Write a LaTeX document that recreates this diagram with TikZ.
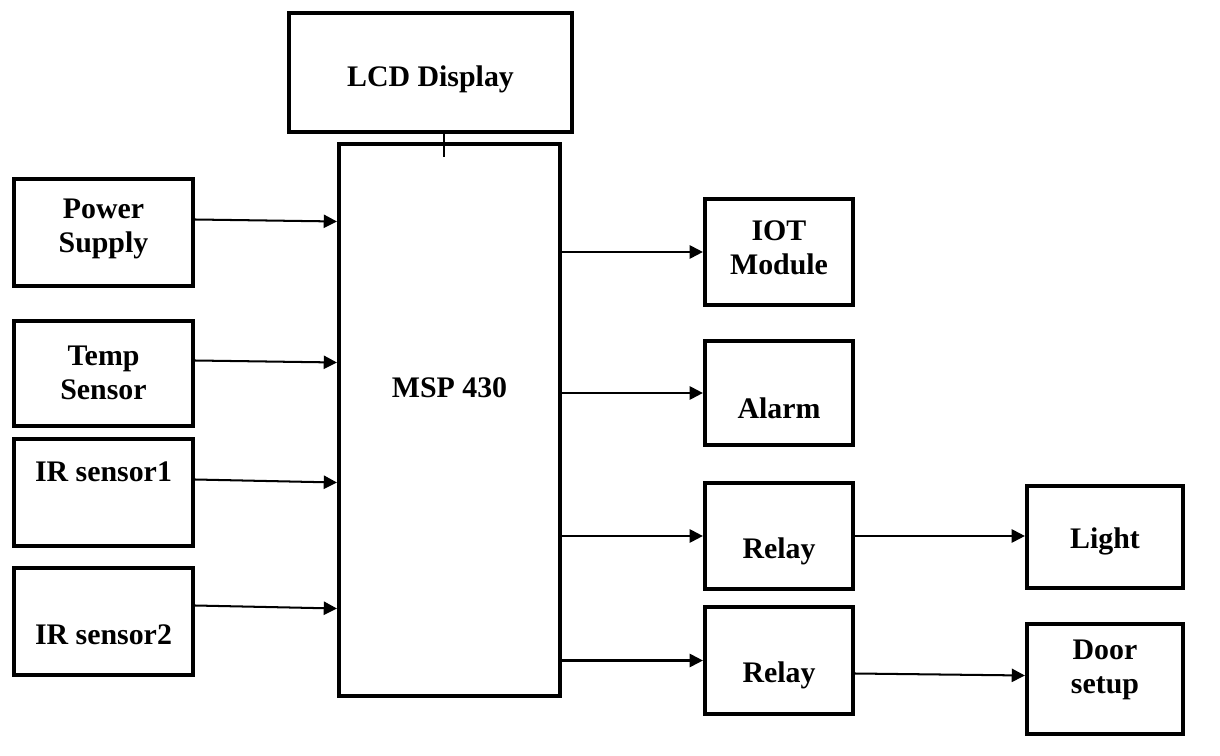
\documentclass[tikz,border=0pt]{standalone}
\usepackage{fontspec}
\setmainfont{Liberation Serif}
\usepackage{tikz}
\usetikzlibrary{
    arrows.meta,
    calc
}

\begin{document}
\begin{tikzpicture}[x=0.02cm,y=-0.02cm,
    box/.style={draw, line width=2.4pt, inner sep=0pt},
    lbl/.style={font=\fontsize{17}{19.5}\selectfont\bfseries, align=center},
    arrow/.style={-{Triangle[length=7.5pt,width=7.5pt]}, line width=1.15pt}
]
\useasboundingbox (0,0) rectangle (1220,756);

% Controller and display
\node[box, minimum width=5.66cm, minimum height=2.38cm] (lcd) at (430.5,72.5) {};
\node[box, minimum width=4.42cm, minimum height=11.04cm] (msp) at (449.5,420) {};
\node[lbl] (lcd-t) at (430.5,79) {LCD Display};
\node[lbl] (msp-t) at (449.5,388) {MSP 430};

% Inputs
\node[box, minimum width=3.58cm, minimum height=2.14cm] (power) at (103.5,232.5) {};
\node[box, minimum width=3.58cm, minimum height=2.10cm] (temp) at (103.5,373.5) {};
\node[box, minimum width=3.58cm, minimum height=2.14cm] (irone) at (103.5,492.5) {};
\node[box, minimum width=3.58cm, minimum height=2.14cm] (irtwo) at (103.5,621.5) {};
\node[lbl] (power-t) at (103.5,229) {Power\\Supply};
\node[lbl] (temp-t) at (103.5,373) {Temp\\Sensor};
\node[lbl] (irone-t) at (103.5,472) {IR sensor1};
\node[lbl] (irtwo-t) at (103.5,635) {IR sensor2};

% Outputs
\node[box, minimum width=2.96cm, minimum height=2.12cm] (iot) at (779,252) {};
\node[box, minimum width=2.96cm, minimum height=2.08cm] (alarm) at (779,393) {};
\node[box, minimum width=2.96cm, minimum height=2.12cm] (relayone) at (779,536) {};
\node[box, minimum width=2.96cm, minimum height=2.14cm] (relaytwo) at (779,660.5) {};
\node[box, minimum width=3.12cm, minimum height=2.04cm] (light) at (1105,537) {};
\node[box, minimum width=3.12cm, minimum height=2.20cm] (door) at (1105,679) {};
\node[lbl] (iot-t) at (779,248) {IOT\\Module};
\node[lbl] (alarm-t) at (779,408) {Alarm};
\node[lbl] (relayone-t) at (779,551) {Relay};
\node[lbl] (relaytwo-t) at (779,675) {Relay};
\node[lbl] (light-t) at (1105,541) {Light};
\node[lbl] (door-t) at (1105,670) {Door\\setup};

% LCD link
\coordinate (tick) at (444,157);
\draw[line width=1.15pt] (tick |- lcd.south) -- (tick);

% Input arrows
\draw[arrow] ($(power.east)+(0,-13)$) -- ($(power.east -| msp.west)+(0,-11)$);
\draw[arrow] ($(temp.east)+(0,-13)$) -- ($(temp.east -| msp.west)+(0,-11)$);
\draw[arrow] ($(irone.east)+(0,-13)$) -- ($(irone.east -| msp.west)+(0,-10)$);
\draw[arrow] ($(irtwo.east)+(0,-16)$) -- ($(irtwo.east -| msp.west)+(0,-13)$);

% Output arrows
\draw[arrow] (iot.west -| msp.east) -- (iot.west);
\draw[arrow] (alarm.west -| msp.east) -- (alarm.west);
\draw[arrow] (relayone.west -| msp.east) -- (relayone.west);
\draw[arrow] (relaytwo.west -| msp.east) -- (relaytwo.west);
\draw[arrow] (relayone.east) -- (relayone.east -| light.west);
\draw[arrow] ($(relaytwo.east)+(0,13)$) -- ($(relaytwo.east -| door.west)+(0,15)$);

\end{tikzpicture}
\end{document}
